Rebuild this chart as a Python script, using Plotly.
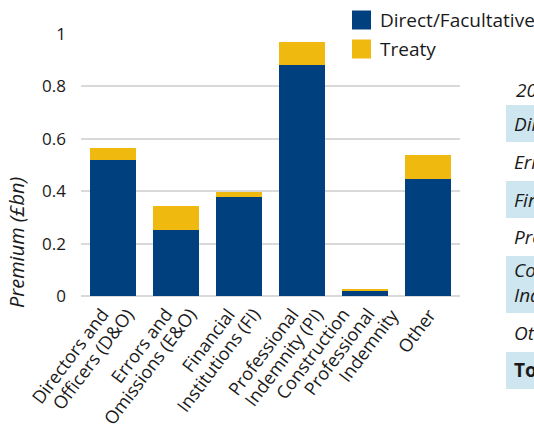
import math
import plotly.graph_objects as go

categories = [
    "Directors and<br>Officers (D&O)",
    "Errors and<br>Omissions (E&O)",
    "Financial<br>Institutions (FI)",
    "Professional<br>Indemnity (PI)",
    "Construction<br>Professional<br>Indemnity",
    "Other",
]
direct_fac = [0.519, 0.251, 0.377, 0.883, 0.021, 0.446]
treaty = [0.046, 0.092, 0.020, 0.088, 0.004, 0.092]
series_names = ["Direct/Facultative", "Treaty"]
y_ticks = [0, 0.2, 0.4, 0.6, 0.8, 1]
y_tick_labels = ["0", "0.2", "0.4", "0.6", "0.8", "1"]
table_rows = [
    ("2019", "italic"),
    ("Directors and Officers (D&O)", "italic"),
    ("Errors and Omissions (E&O)", "italic"),
    ("Financial Institutions (FI)", "italic"),
    ("Professional Indemnity (PI)", "italic"),
    ("Construction Professional<br>Indemnity", "italic"),
    ("Other", "italic"),
    ("Total", "bold"),
]

BLUE = "#00407F"
GOLD = "#F0B90F"
LIGHT = "#CDE6EF"
FONT = "Open Sans"
TXT = "#1a1a1a"

W, H = 534, 433
L, R, T, B = 81, 460, 34, 296


def px(x):
    return (x - L) / (R - L)


def py(y):
    return (B - y) / (B - T)


fig = go.Figure()
fig.add_trace(go.Bar(x=categories, y=direct_fac, name=series_names[0],
                     marker=dict(color=BLUE, line=dict(width=0)), showlegend=False))
fig.add_trace(go.Bar(x=categories, y=treaty, name=series_names[1],
                     marker=dict(color=GOLD, line=dict(width=0)), showlegend=False))

shapes = []
annotations = []

# manual legend
leg_y = [20, 49]
for name, col, yc in zip(series_names, [BLUE, GOLD], leg_y):
    shapes.append(dict(type="rect", xref="paper", yref="paper",
                       x0=px(352), x1=px(371), y0=py(yc - 9.5), y1=py(yc + 9.5),
                       fillcolor=col, line=dict(width=0), layer="above"))
    annotations.append(dict(text=name, xref="paper", yref="paper", x=px(378), y=py(yc),
                            xanchor="left", yanchor="middle", showarrow=False,
                            font=dict(family=FONT, size=19, color=TXT)))

# partially visible table on the right
row_centers = [90, 124, 162, 200, 237, 282, 333, 370]
bg_spans = {1: (105, 142), 3: (181, 218), 5: (256, 313), 7: (352, 389)}
for i, (label, style) in enumerate(table_rows):
    if i in bg_spans:
        y0, y1 = bg_spans[i]
        shapes.append(dict(type="rect", xref="paper", yref="paper",
                           x0=px(506), x1=px(600), y0=py(y1), y1=py(y0),
                           fillcolor=LIGHT, line=dict(width=0), layer="below"))
    txt = f"<b>{label}</b>" if style == "bold" else f"<i>{label}</i>"
    annotations.append(dict(text=txt, xref="paper", yref="paper",
                            x=px(512 if i else 514), y=py(row_centers[i]),
                            xanchor="left", yanchor="middle", align="left",
                            showarrow=False,
                            font=dict(family=FONT, size=19, color=TXT)))

# rotated category labels: each line's end sits just under the axis,
# line ends spaced evenly and the group centred on the tick
LAB_FS = 18
THETA = 53
th = math.radians(THETA)
LINE_DX = 25      # horizontal spacing of successive line ends
END_DX = 6        # group centre offset from tick
END_DY = 12       # right-middle of line below the axis
h = 1.3 * LAB_FS + 2
for idx, cat in enumerate(categories):
    lines = cat.split("<br>")
    n = len(lines)
    for j, line in enumerate(lines):
        rm_dx = END_DX + (j - (n - 1) / 2) * LINE_DX
        annotations.append(dict(text=line, xref="x", yref="paper", x=idx, y=0,
                                xanchor="right", yanchor="top",
                                textangle=-THETA, showarrow=False,
                                xshift=rm_dx + (h / 2) * math.sin(th),
                                yshift=(h / 2) * math.cos(th) - END_DY,
                                font=dict(family=FONT, size=LAB_FS, color=TXT)))

# y-axis title
annotations.append(dict(text="<i>Premium (£bn)</i>", xref="paper", yref="paper",
                        x=px(17), y=py(243), textangle=-90, xanchor="center",
                        yanchor="middle", showarrow=False,
                        font=dict(family=FONT, size=20, color=TXT)))

fig.update_layout(
    barmode="stack",
    bargap=0.27,
    width=W, height=H,
    margin=dict(l=L, r=W - R, t=T, b=H - B, autoexpand=False),
    paper_bgcolor="white",
    plot_bgcolor="white",
    font=dict(family=FONT, size=16, color=TXT),
    shapes=shapes,
    annotations=annotations,
    showlegend=False,
)
fig.update_xaxes(type="category", categoryorder="array", categoryarray=categories,
                 range=[-0.5, len(categories) - 0.5],
                 showticklabels=False, showgrid=False, showline=False, ticks="")
fig.update_yaxes(range=[0, 1], tickvals=y_ticks, ticktext=y_tick_labels,
                 showgrid=True, gridcolor="#D9D9D9", gridwidth=1.5,
                 zeroline=True, zerolinecolor="#D9D9D9", zerolinewidth=1.5,
                 showline=False, ticks="", ticklabelstandoff=14,
                 tickfont=dict(family=FONT, size=17, color=TXT))

fig.write_html("out.html")
